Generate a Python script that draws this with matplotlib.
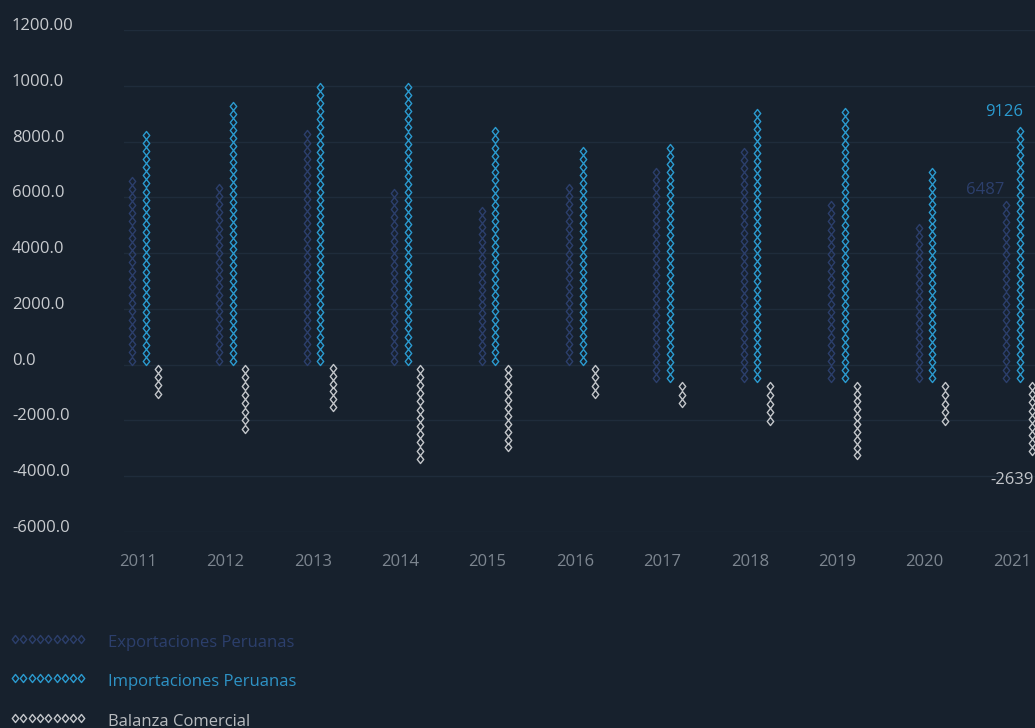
import matplotlib
matplotlib.use("Agg")
import matplotlib.pyplot as plt
from matplotlib.path import Path
import numpy as np

# ---------------- data ----------------
years = ["2011", "2012", "2013", "2014", "2015", "2016", "2017", "2018", "2019", "2020", "2021"]
exports = [6750, 6500, 8400, 6310, 5660, 6490, 7670, 8400, 6500, 5670, 6487]
imports = [8375, 9400, 10090, 10090, 8520, 7820, 8540, 9800, 9840, 7670, 9126]
balance = [-1190, -2450, -1640, -3520, -3110, -1220, -900, -1550, -2770, -1550, -2639]
col_start = [0, 0, 0, 0, 0, 0, -620, -620, -620, -620, -620]
ytick_values = [-6000, -4000, -2000, 0, 2000, 4000, 6000, 8000, 10000, 12000]
ytick_labels = ["-6000.0", "-4000.0", "-2000.0", "0.0", "2000.0", "4000.0",
                "6000.0", "8000.0", "1000.0", "1200.00"]
series_names = ["Exportaciones Peruanas", "Importaciones Peruanas", "Balanza Comercial"]

# ---------------- style ----------------
BG = "#17212d"
GRID = "#1f2c3b"
C_EXP = "#2c3f6c"
C_IMP = "#2b9bd0"
C_BAL = "#c3c6ca"
YTXT = "#c8cbcf"
XTXT = "#7d8690"
FONT = ["Open Sans", "DejaVu Sans"]
FS = 12
plt.rcParams["font.family"] = FONT

W, H = 1035, 728
DPI = 100
fig = plt.figure(figsize=(W / DPI, H / DPI), dpi=DPI, facecolor=BG)

ax_left_px, ax_right_px = 124, 1035
ax_top_px, ax_bot_px = 30, 532
ax = fig.add_axes([ax_left_px / W, (H - ax_bot_px) / H,
                   (ax_right_px - ax_left_px) / W, (ax_bot_px - ax_top_px) / H])
ax.set_facecolor(BG)

first_center_px, spacing_px = 138, 87.4
ax.set_xlim((ax_left_px - first_center_px) / spacing_px,
            (ax_right_px - first_center_px) / spacing_px)
ax.set_ylim(-6000, 12000)

for s in ax.spines.values():
    s.set_visible(False)
ax.set_yticks(ytick_values)
ax.set_yticklabels([])
ax.tick_params(axis="y", length=0)
ax.grid(axis="y", color=GRID, linewidth=1)
ax.set_axisbelow(True)

x = np.arange(len(years))
ax.set_xticks(x)
ax.set_xticklabels(years, color=XTXT, fontsize=FS)
ax.tick_params(axis="x", length=0, pad=15.5)

for v, lab in zip(ytick_values, ytick_labels):
    ax.annotate(lab, xy=(0, v), xycoords=("axes fraction", "data"),
                xytext=(-112 * 0.72, 4 * 0.72), textcoords="offset points",
                ha="left", va="center", color=YTXT, fontsize=FS,
                annotation_clip=False)

# diamond marker (taller than wide)
diamond = Path([(0, 1), (0.8, 0), (0, -1), (-0.8, 0), (0, 1)],
               [Path.MOVETO, Path.LINETO, Path.LINETO, Path.LINETO, Path.CLOSEPOLY])
MS = 5.8
MEW = 1.0
pitch = 289.0  # symbol height in data units

# column offsets in category units
offsets = {"exp": -6 / spacing_px, "imp": 7.5 / spacing_px, "bal": 20 / spacing_px}


def draw_column(xc, start, value, color):
    L = abs(value)
    n = max(1, int(round(L / pitch)))
    sign = 1 if value >= 0 else -1
    ys = start + sign * L * (np.arange(n) + 0.5) / n
    ax.plot(np.full(n, xc), ys, linestyle="none", marker=diamond, ms=MS,
            mfc="none", mec=color, mew=MEW, clip_on=False)


for i in range(len(years)):
    draw_column(x[i] + offsets["exp"], col_start[i], exports[i], C_EXP)
    draw_column(x[i] + offsets["imp"], col_start[i], imports[i], C_IMP)
    draw_column(x[i] + offsets["bal"], col_start[i], balance[i], C_BAL)

# end labels for last year
last = len(years) - 1
ax.annotate(f"{imports[last]}", xy=(x[last] + offsets["imp"], col_start[last] + imports[last]),
            xytext=(4 * 0.72, 15 * 0.72), textcoords="offset points",
            ha="right", va="center", color=C_IMP, fontsize=FS, annotation_clip=False)
ax.annotate(f"{exports[last]}", xy=(x[last] + offsets["exp"], col_start[last] + exports[last]),
            xytext=(-2 * 0.72, 11 * 0.72), textcoords="offset points",
            ha="right", va="center", color=C_EXP, fontsize=FS, annotation_clip=False)
ax.annotate(f"{balance[last]}", xy=(x[last] + offsets["bal"], col_start[last] + balance[last]),
            xytext=(2 * 0.72, -24 * 0.72), textcoords="offset points",
            ha="right", va="center", color=C_BAL, fontsize=FS, annotation_clip=False)

# ---------------- legend ----------------
lax = fig.add_axes([0, 0, 1, 1])
lax.set_xlim(0, W)
lax.set_ylim(H, 0)
lax.axis("off")
lax.patch.set_alpha(0)
leg_colors = [C_EXP, C_IMP, C_BAL]
leg_text_colors = ["#2c3f6c", "#2e93c6", "#b8bbbf"]
leg_rows = [639, 678, 718]
for name, col, tcol, yy in zip(series_names, leg_colors, leg_text_colors, leg_rows):
    xs = 15 + 8.3 * np.arange(9)
    lax.plot(xs, np.full(9, yy), linestyle="none", marker=diamond, ms=MS,
             mfc="none", mec=col, mew=MEW, clip_on=False)
    lax.text(108, yy + 4, name, color=tcol, fontsize=FS, ha="left", va="center")

fig.savefig("out.png", dpi=DPI, facecolor=BG)
